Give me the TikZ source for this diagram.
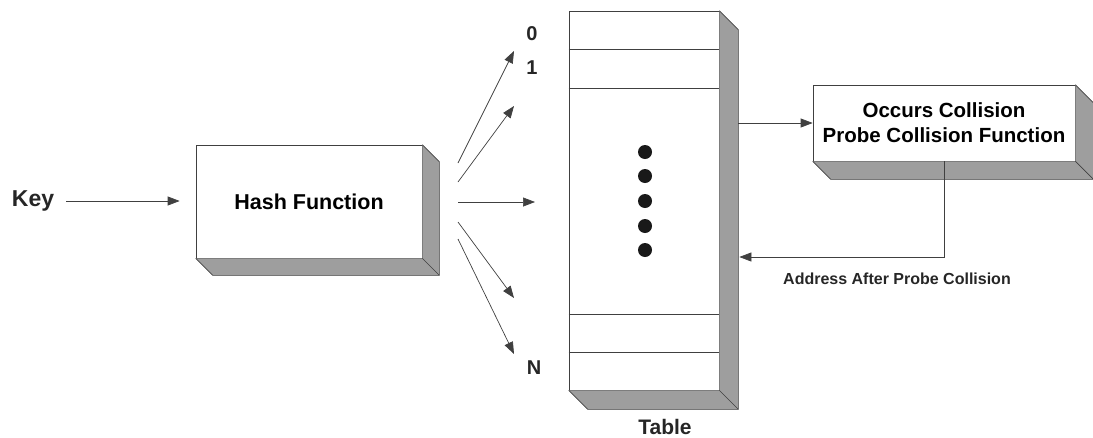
\documentclass[tikz,border=0pt]{standalone}
\usepackage{fontspec}
\setmainfont{Liberation Sans}
\usetikzlibrary{arrows.meta,calc}

% extruded "3-D" face of a box node: right side and bottom, pushed down-right by #2
\newcommand{\extrude}[2]{%
  \fill[depth] (#1.north east) -- ($(#1.north east)+(#2,#2)$) -- ($(#1.south east)+(#2,#2)$)
     -- ($(#1.south west)+(#2,#2)$) -- (#1.south west) -- (#1.south east) -- cycle;
  \draw[edge] (#1.north east) -- ($(#1.north east)+(#2,#2)$) -- ($(#1.south east)+(#2,#2)$)
     -- ($(#1.south west)+(#2,#2)$) -- (#1.south west);
  \draw[edge] (#1.south east) -- ($(#1.south east)+(#2,#2)$);
}

\tikzset{
  edge/.style={draw=black!75, line width=0.7pt},
  depth/.style={fill=black!38},
  face/.style={edge, fill=white, inner sep=0pt, font=\bfseries, align=center},
  lbl/.style={font=\bfseries, text=black!85, inner sep=1pt},
  idx/.style={lbl, font=\bfseries\fontsize{20}{24}\selectfont},
  arr/.style={edge, -{Triangle[length=12pt,width=9pt]}},
  row/.style={edge},
  dot/.style={fill=black!90}
}

\begin{document}
\begin{tikzpicture}[x=1pt, y=-1pt]
  \useasboundingbox (0,0) rectangle (1093,437);

  % key and hash function
  \node[lbl, font=\bfseries\fontsize{23}{26}\selectfont] (key) at (33,201) {Key};
  \node[face, minimum width=226pt, minimum height=113pt, font=\bfseries\fontsize{21.5}{24}\selectfont]
    (hash) at (309,201.5) {Hash Function};
  \extrude{hash}{17}
  \draw[arr, shorten <=11pt, shorten >=16pt] (key.east) -- (key.east -| hash.west);

  % table
  \node[face, minimum width=150pt, minimum height=379pt] (tab) at (644,200.5) {};
  \extrude{tab}{19}
  \draw[row] (tab.west |- 0,49) -- (tab.east |- 0,49);
  \draw[row] (tab.west |- 0,88) -- (tab.east |- 0,88);
  \draw[row] (tab.west |- 0,314) -- (tab.east |- 0,314);
  \draw[row] (tab.west |- 0,352) -- (tab.east |- 0,352);
  \foreach \yy/\nm in {152/d1,176/d2,201/d3,226/d4,250/d5}
    \fill[dot] (645,\yy) circle (7pt) coordinate (\nm);
  \node[lbl, font=\bfseries\fontsize{21}{24}\selectfont] (tablbl) at (665,427) {Table};

  % bucket indices
  \node[idx] (i0) at (532,34) {0};
  \node[idx] (i1) at (532,68) {1};
  \node[idx] (iN) at (534,368) {N};

  % fan of hash outputs
  \coordinate (s1) at (458,163);  \coordinate (e1) at (514,51);
  \coordinate (s2) at (458,182);  \coordinate (e2) at (514,106);
  \coordinate (s3) at (458,202);  \coordinate (e3) at (535,202);
  \coordinate (s4) at (458,222);  \coordinate (e4) at (514,298);
  \coordinate (s5) at (458,239);  \coordinate (e5) at (514,354);
  \foreach \k in {1,...,5} \draw[arr] (s\k) -- (e\k);

  % collision handling
  \node[face, minimum width=262pt, minimum height=76pt, font=\bfseries\fontsize{20.5}{25}\selectfont]
    (occ) at (944,123) {Occurs Collision\\Probe Collision Function};
  \extrude{occ}{18}
  \draw[arr] ([xshift=19pt]tab.east |- occ.west) -- (occ.west);
  \coordinate (back) at ([xshift=20pt]tab.east |- 0,257);
  \draw[arr] (occ.south) |- (back);
  \node[lbl, font=\bfseries\fontsize{16}{19}\selectfont] (addr) at (897,279) {Address After Probe Collision};
\end{tikzpicture}
\end{document}
